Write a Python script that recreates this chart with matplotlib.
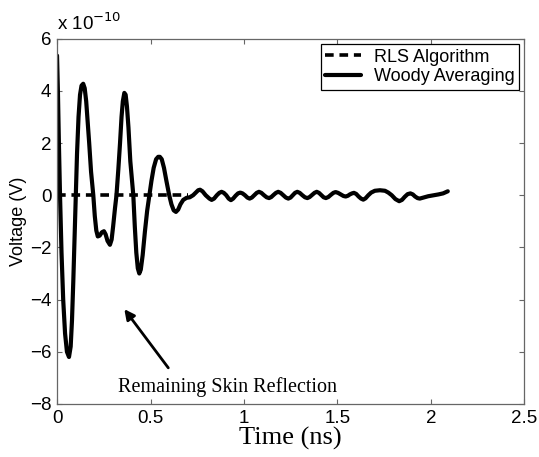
import numpy as np
import matplotlib
matplotlib.use("Agg")
import matplotlib.pyplot as plt

# residual voltage after skin reflection removal, in units of 1e-10 V
t_woody = [
    0.000, 0.005, 0.010, 0.016, 0.024, 0.033, 0.043, 0.053, 0.064, 0.073,
    0.080, 0.087, 0.094, 0.100, 0.107, 0.115, 0.123, 0.131, 0.140, 0.148,
    0.156, 0.165, 0.172, 0.182, 0.194, 0.202, 0.210, 0.218, 0.228, 0.240,
    0.251, 0.260, 0.270, 0.283, 0.292, 0.300, 0.310, 0.318, 0.328, 0.337,
    0.345, 0.352, 0.360, 0.367, 0.374, 0.382, 0.392, 0.408, 0.416, 0.424,
    0.432, 0.440, 0.448, 0.458, 0.470, 0.482, 0.494, 0.505, 0.517, 0.530,
    0.541, 0.550, 0.560, 0.572, 0.585, 0.600, 0.612, 0.624, 0.636, 0.648,
    0.660, 0.675, 0.693, 0.710, 0.728, 0.745, 0.755, 0.765, 0.778, 0.795,
    0.815, 0.827, 0.840, 0.855, 0.868, 0.880, 0.892, 0.905, 0.918, 0.930,
    0.942, 0.955, 0.968, 0.980, 0.992, 1.005, 1.018, 1.030, 1.042, 1.055,
    1.068, 1.080, 1.093, 1.107, 1.121, 1.134, 1.146, 1.158, 1.171, 1.183,
    1.196, 1.210, 1.224, 1.237, 1.249, 1.261, 1.273, 1.285, 1.298, 1.312,
    1.326, 1.339, 1.351, 1.364, 1.377, 1.389, 1.401, 1.414, 1.426, 1.438,
    1.451, 1.464, 1.478, 1.490, 1.503, 1.517, 1.532, 1.544, 1.556, 1.566,
    1.578, 1.588, 1.600, 1.613, 1.626, 1.638, 1.650, 1.665, 1.680, 1.700,
    1.727, 1.754, 1.772, 1.790, 1.810, 1.830, 1.845, 1.860, 1.875, 1.890,
    1.903, 1.915, 1.928, 1.940, 1.960, 1.985, 2.010, 2.040, 2.065, 2.090,
]
v_woody = [
    5.35, 3.90, 2.00, 0.00, -2.20, -4.00, -5.30, -6.00, -6.20, -5.80,
    -4.80, -3.30, -1.60, 0.00, 1.60, 3.00, 3.85, 4.20, 4.27, 4.10,
    3.60, 2.70, 2.00, 0.90, 0.00, -0.80, -1.35, -1.58, -1.55, -1.42,
    -1.38, -1.50, -1.75, -1.90, -1.70, -1.20, -0.50, 0.00, 1.00, 2.00,
    3.00, 3.60, 3.92, 3.85, 3.40, 2.60, 1.30, 0.00, -1.20, -2.20,
    -2.80, -3.00, -2.85, -2.30, -1.40, -0.60, 0.00, 0.55, 1.05, 1.38,
    1.47, 1.47, 1.38, 1.05, 0.55, 0.00, -0.35, -0.58, -0.64, -0.55,
    -0.35, -0.18, -0.10, -0.08, 0.00, 0.12, 0.19, 0.21, 0.15, 0.00,
    -0.13, -0.18, -0.13, 0.00, 0.09, 0.13, 0.09, 0.00, -0.13, -0.19,
    -0.13, -0.02, 0.07, 0.10, 0.07, 0.00, -0.09, -0.13, -0.09, 0.00,
    0.09, 0.13, 0.09, 0.00, -0.08, -0.11, -0.07, 0.01, 0.09, 0.13,
    0.09, 0.00, -0.09, -0.13, -0.09, 0.00, 0.09, 0.13, 0.09, 0.00,
    -0.08, -0.11, -0.07, 0.01, 0.09, 0.13, 0.09, 0.00, -0.08, -0.11,
    -0.07, 0.01, 0.09, 0.12, 0.09, 0.03, -0.03, -0.05, -0.02, 0.03,
    0.07, 0.09, 0.05, -0.05, -0.13, -0.17, -0.12, 0.00, 0.10, 0.17,
    0.19, 0.17, 0.10, 0.00, -0.15, -0.23, -0.18, -0.06, 0.04, 0.07,
    0.03, -0.05, -0.11, -0.13, -0.09, -0.04, -0.01, 0.03, 0.07, 0.15,
]
t_rls = [0.0, 0.35, 0.70]
v_rls = [0.0, 0.0, 0.0]

xticks = [0, 0.5, 1, 1.5, 2, 2.5]
yticks = [-8, -6, -4, -2, 0, 2, 4, 6]

sans = "Liberation Sans"
serif = "Liberation Serif"

fig = plt.figure(figsize=(5.39, 4.57), dpi=100)
ax = fig.add_axes([0.1058, 0.116, 0.8672, 0.7995])

ax.plot(t_rls, v_rls, color="black", lw=2.6, dashes=(2.4, 1.6), label="RLS Algorithm")
ax.plot(t_woody, v_woody, color="black", lw=3.0, solid_joinstyle="round",
        solid_capstyle="round", label="Woody Averaging")

ax.set_xlim(0, 2.5)
ax.set_ylim(-8, 6)
ax.set_xticks(xticks)
ax.set_xticklabels(["0", "0.5", "1", "1.5", "2", "2.5"])
ax.set_yticks(yticks)
ax.set_yticklabels([f"{v:d}".replace("-", "\u2212") for v in yticks])

for s in ax.spines.values():
    s.set_color("0.4")
    s.set_linewidth(0.9)
ax.tick_params(direction="in", length=3.5, width=0.8, color="0.4",
               top=True, right=True, labelsize=13.5, pad=4)
for lab in ax.get_xticklabels() + ax.get_yticklabels():
    lab.set_fontfamily(sans)

ax.set_xlabel("Time (ns)", fontsize=19, fontfamily=serif, labelpad=0)
ax.set_ylabel("Voltage (V)", fontsize=13, fontfamily=sans, labelpad=2)

# exponent shared by the y axis
ax.text(0.0, 1.012, "x 10$^{-10}$", transform=ax.transAxes, fontsize=13.5,
        fontfamily=sans, ha="left", va="bottom")

ax.annotate("", xy=(0.351, -4.28), xytext=(0.604, -6.70),
            arrowprops=dict(arrowstyle="-|>,head_length=0.6,head_width=0.3",
                            color="black", lw=2))
ax.text(0.326, -7.53, "Remaining Skin Reflection", fontsize=14.5,
        fontfamily=serif, ha="left", va="baseline")

leg = ax.legend(loc="upper right", prop={"family": sans, "size": 13},
                frameon=True, fancybox=False, framealpha=1, borderaxespad=0.3,
                handlelength=2.0, handletextpad=0.7, borderpad=0.25,
                labelspacing=0.15)
leg.get_frame().set_edgecolor("black")
leg.get_frame().set_linewidth(0.9)

fig.savefig("out.png", dpi=100)
